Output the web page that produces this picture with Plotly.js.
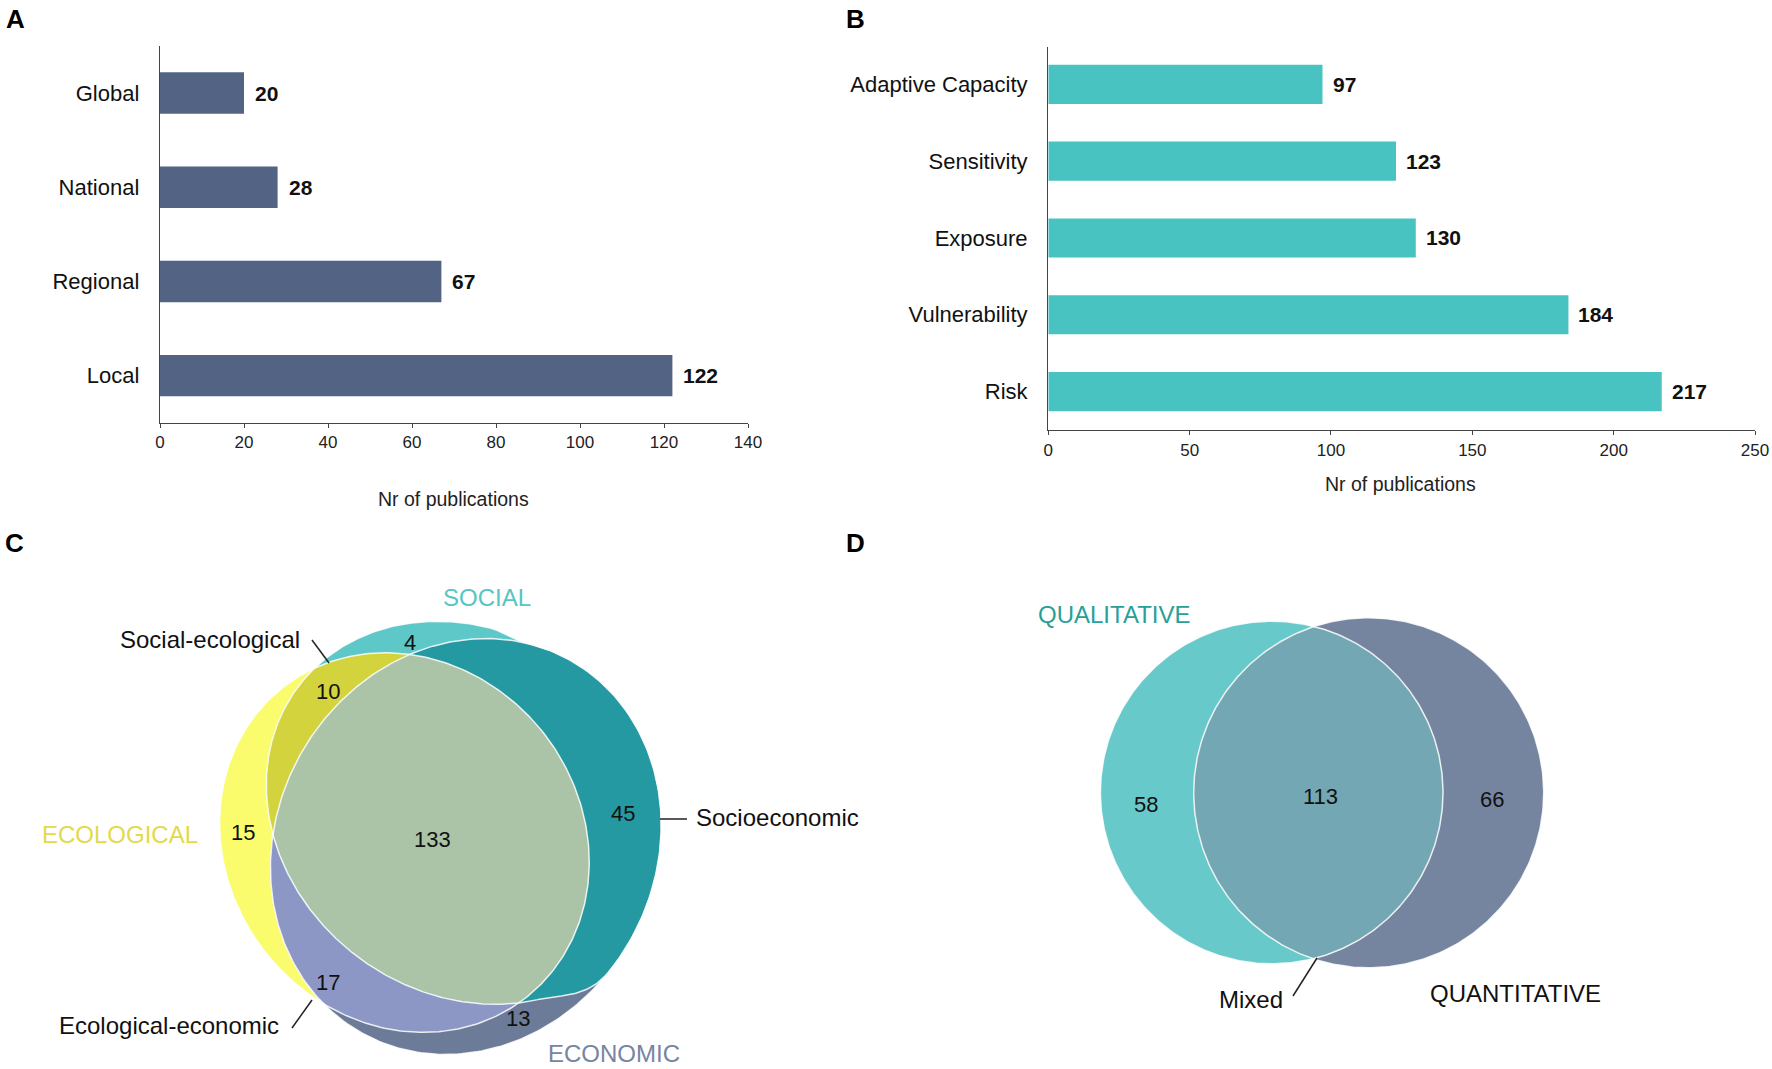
<!DOCTYPE html>
<html><head><meta charset="utf-8">
<script src="https://cdn.plot.ly/plotly-3.0.1.min.js"></script>
<style>html,body{margin:0;padding:0;background:#fff;}#chart{width:1772px;height:1069px;}</style>
</head><body><div id="chart"></div>
<script>
// ---------- DATA ----------
const scaleCategories = ['Local', 'Regional', 'National', 'Global'];
const scaleCounts = [122, 67, 28, 20];
const xTicksA = [0, 20, 40, 60, 80, 100, 120, 140];

const conceptCategories = ['Risk', 'Vulnerability', 'Exposure', 'Sensitivity', 'Adaptive Capacity'];
const conceptCounts = [217, 184, 130, 123, 97];
const xTicksB = [0, 50, 100, 150, 200, 250];

const dimensionRegions = ['Social', 'Social-ecological', 'Ecological', 'All three', 'Socioeconomic', 'Ecological-economic', 'Economic'];
const dimensionCounts = [4, 10, 15, 133, 45, 17, 13];

const methodRegions = ['Qualitative', 'Mixed', 'Quantitative'];
const methodCounts = [58, 113, 66];

// ---------- GEOMETRY of the Venn sets (pixel space: cx, cy, semi-axes, rotation in degrees) ----------
const D2R = Math.PI / 180;
const elE = {cx: 404.4, cy: 842.6, r1: 177.1, r2: 197.0, th: -37.8 * D2R};   // Ecological
const elC = {cx: 465.8, cy: 846.5, r1: 189.3, r2: 213.5, th: 29.3 * D2R};    // Economic
const elS = {cx: 466.1, cy: 812.8, r1: 180.3, r2: 210.0, th: -53.2 * D2R};   // Social
const socialSharedArc = [-69.9, 46.0];   // angular sector where Social follows the Economic outline
const elQ = {cx: 1271.7, cy: 792.5, r1: 171.3, r2: 171.3, th: 0};            // Qualitative
const elN = {cx: 1368.7, cy: 792.8, r1: 175, r2: 175, th: 0};                // Quantitative

function ellipsePoly(el, n){
  const P=[]; n=n||360;
  for(let i=0;i<n;i++){const t=2*Math.PI*i/n;
    const x=el.r1*Math.cos(t), y=el.r2*Math.sin(t);
    P.push([el.cx+x*Math.cos(el.th)-y*Math.sin(el.th), el.cy+x*Math.sin(el.th)+y*Math.cos(el.th)]);}
  return P;
}
function rayEllipse(el, p0, ang){
  const dx=Math.cos(ang), dy=Math.sin(ang);
  const c=Math.cos(-el.th), s=Math.sin(-el.th);
  const px=(p0[0]-el.cx)*c-(p0[1]-el.cy)*s, py=(p0[0]-el.cx)*s+(p0[1]-el.cy)*c;
  const ddx=dx*c-dy*s, ddy=dx*s+dy*c;
  const A=ddx*ddx/(el.r1*el.r1)+ddy*ddy/(el.r2*el.r2);
  const B=2*(px*ddx/(el.r1*el.r1)+py*ddy/(el.r2*el.r2));
  const C=px*px/(el.r1*el.r1)+py*py/(el.r2*el.r2)-1;
  return (-B+Math.sqrt(B*B-4*A*C))/(2*A);
}
function smooth(t){t=Math.max(0,Math.min(1,t));return t*t*(3-2*t);}
function socialPoly(n){
  const p0=[elS.cx, elS.cy], a1=socialSharedArc[0], a2=socialSharedArc[1]; const P=[];
  for(let i=0;i<n;i++){
    const deg=-180+360*i/n, a=deg*D2R;
    const rS=rayEllipse(elS,p0,a), rC=rayEllipse(elC,p0,a)*1.002;
    let w=0; if(deg<a1) w=smooth((a1-deg)/12); else if(deg>a2) w=smooth((deg-a2)/22);
    const r=rC+(rS-rC)*w;
    P.push([p0[0]+r*Math.cos(a), p0[1]+r*Math.sin(a)]);
  }
  return P;
}
function area(P){let s=0;for(let i=0;i<P.length;i++){const a=P[i],b=P[(i+1)%P.length];s+=a[0]*b[1]-b[0]*a[1];}return s/2;}
function clip(subject, cp){
  const sg=Math.sign(area(cp)); let out=subject;
  for(let i=0;i<cp.length;i++){
    const A=cp[i],B=cp[(i+1)%cp.length]; const inp=out; out=[]; if(!inp.length)break;
    const side=p=>sg*((B[0]-A[0])*(p[1]-A[1])-(B[1]-A[1])*(p[0]-A[0]));
    for(let j=0;j<inp.length;j++){const P=inp[j],Q=inp[(j+1)%inp.length];const sp=side(P),sq=side(Q);
      if(sp>=0)out.push(P);
      if((sp>=0)!==(sq>=0)){const t=sp/(sp-sq);out.push([P[0]+t*(Q[0]-P[0]),P[1]+t*(Q[1]-P[1])]);}}
  }
  return out;
}

const PE=ellipsePoly(elE), PC=ellipsePoly(elC), PS=socialPoly(720), PQ=ellipsePoly(elQ), PN=ellipsePoly(elN);

const FONT='Liberation Sans, Arial, Helvetica, sans-serif';
const traces=[];
function poly(P, color, name){
  const xs=P.map(p=>p[0]), ys=P.map(p=>p[1]); xs.push(xs[0]); ys.push(ys[0]);
  traces.push({type:'scatter',mode:'lines',name:name,x:xs,y:ys,fill:'toself',fillcolor:color,line:{width:0,color:color},
    xaxis:'x3',yaxis:'y3',hoverinfo:'skip',showlegend:false});
}
function outline(P, color, w){
  const xs=P.map(p=>p[0]), ys=P.map(p=>p[1]); xs.push(xs[0]); ys.push(ys[0]);
  traces.push({type:'scatter',mode:'lines',x:xs,y:ys,line:{width:w,color:color},
    xaxis:'x3',yaxis:'y3',hoverinfo:'skip',showlegend:false});
}

// bars
traces.push({type:'bar',orientation:'h',x:scaleCounts,y:scaleCategories,marker:{color:'#526384'},width:0.44,
  xaxis:'x',yaxis:'y',hoverinfo:'skip',showlegend:false});
traces.push({type:'bar',orientation:'h',x:conceptCounts,y:conceptCategories,marker:{color:'#48c3c1'},width:0.51,
  xaxis:'x2',yaxis:'y2',hoverinfo:'skip',showlegend:false});

// Venn C (painter order: single sets, then pairwise, then triple)
poly(PE,'#fbfb6e','Ecological');
poly(PC,'#6b7b98','Economic');
poly(PS,'#5ec7c8','Social');
poly(clip(PE,PC),'#8d97c6','Ecological-economic');
poly(clip(PS,PE),'#d3d33d','Social-ecological');
poly(clip(PS,PC),'#2499a1','Socioeconomic');
poly(clip(clip(PS,PE),PC),'#abc3a7','All three');
outline(PE,'rgba(255,255,255,0.85)',1.5);
outline(PC,'rgba(255,255,255,0.85)',1.5);
outline(PS,'rgba(255,255,255,0.85)',1.5);

// Venn D
poly(PQ,'#68c9ca','Qualitative');
poly(PN,'#75849f','Quantitative');
poly(clip(PQ,PN),'#73a7b4','Mixed');
outline(PQ,'rgba(255,255,255,0.85)',1.5);
outline(PN,'rgba(255,255,255,0.85)',1.5);

// ---------- ANNOTATIONS ----------
const ann=[];
function txt(x,y,text,size,color,opts){
  ann.push(Object.assign({x:x,y:y,xref:'x3',yref:'y3',text:text,showarrow:false,
    font:{family:FONT,size:size,color:color||'#111'},xanchor:'center',yanchor:'middle'},opts||{}));
}
scaleCounts.forEach((v,i)=>ann.push({xref:'x',yref:'y',x:v,y:scaleCategories[i],text:'<b>'+v+'</b>',showarrow:false,
  xanchor:'left',xshift:9,font:{family:FONT,size:21,color:'#111'}}));
conceptCounts.forEach((v,i)=>ann.push({xref:'x2',yref:'y2',x:v,y:conceptCategories[i],text:'<b>'+v+'</b>',showarrow:false,
  xanchor:'left',xshift:8,font:{family:FONT,size:21,color:'#111'}}));
ann.push({xref:'paper',yref:'paper',x:453/1772,y:1-499/1069,text:'Nr of publications',showarrow:false,font:{family:FONT,size:19.5,color:'#222'},xanchor:'center',yanchor:'middle'});
ann.push({xref:'paper',yref:'paper',x:1400.5/1772,y:1-484/1069,text:'Nr of publications',showarrow:false,font:{family:FONT,size:19.5,color:'#222'},xanchor:'center',yanchor:'middle'});
[['A',15.5,19],['B',855,19],['C',14.5,543],['D',855,543]].forEach(l=>ann.push({xref:'paper',yref:'paper',x:l[1]/1772,y:1-l[2]/1069,
  text:'<b>'+l[0]+'</b>',showarrow:false,font:{family:FONT,size:26,color:'#000'},xanchor:'center',yanchor:'middle'}));

const posC=[[410,642],[328,691],[243,832],[432,839],[623,813],[328,982],[518,1018]];
dimensionCounts.forEach((v,i)=>txt(posC[i][0],posC[i][1],String(v),22,'#111'));
const posD=[[1146,804],[1320,796],[1492,799]];
methodCounts.forEach((v,i)=>txt(posD[i][0],posD[i][1],String(v),22,'#111'));
txt(486.5,597,'SOCIAL',24,'#55c6c4');
txt(120,834,'ECOLOGICAL',24,'#e3d94b');
txt(614,1053,'ECONOMIC',24,'#7784a2');
txt(210,639,'Social-ecological',24,'#111');
txt(694,817,'Socioeconomic',24,'#111',{xanchor:'left'});
txt(169,1025,'Ecological-economic',24,'#111');
txt(1114,614,'QUALITATIVE',24,'#28a098');
txt(1515,993,'QUANTITATIVE',24,'#111');
txt(1251,999,'Mixed',24,'#111');

const line=(x0,y0,x1,y1)=>({type:'line',xref:'x3',yref:'y3',x0:x0,y0:y0,x1:x1,y1:y1,line:{color:'#222',width:1.5}});
const shapes=[line(312,640,329,663),line(660,819,687,819),line(292,1028,312,1000),line(1293,996,1317,958)];

const axBase={showgrid:false,zeroline:false,fixedrange:true,showline:true,linecolor:'#444',linewidth:1.3};
const layout={
  width:1772,height:1069,margin:{l:0,r:0,t:0,b:0},paper_bgcolor:'#fff',plot_bgcolor:'rgba(0,0,0,0)',
  showlegend:false,font:{family:FONT,color:'#222'},
  xaxis:Object.assign({},axBase,{domain:[160/1772,748/1772],range:[0,140],tickvals:xTicksA,ticks:'outside',ticklen:4,tickcolor:'#444',
    tickfont:{family:FONT,size:17,color:'#222'},anchor:'y'}),
  yaxis:Object.assign({},axBase,{domain:[1-422.7/1069,1-46/1069],type:'category',categoryorder:'array',categoryarray:scaleCategories,
    range:[-0.5,3.5],ticks:'outside',ticklen:15,tickcolor:'rgba(0,0,0,0)',tickfont:{family:FONT,size:22,color:'#111'},anchor:'x'}),
  xaxis2:Object.assign({},axBase,{domain:[1048.3/1772,1755/1772],range:[0,250],tickvals:xTicksB,ticks:'outside',ticklen:4,tickcolor:'#444',
    tickfont:{family:FONT,size:17,color:'#222'},anchor:'y2'}),
  yaxis2:Object.assign({},axBase,{domain:[1-430/1069,1-46.7/1069],type:'category',categoryorder:'array',categoryarray:conceptCategories,
    range:[-0.5,4.49],ticks:'outside',ticklen:15,tickcolor:'rgba(0,0,0,0)',tickfont:{family:FONT,size:22,color:'#111'},anchor:'x2'}),
  xaxis3:{domain:[0,1],range:[0,1772],visible:false,fixedrange:true,anchor:'y3'},
  yaxis3:{domain:[0,0.49],range:[1069,1069*0.51],visible:false,fixedrange:true,anchor:'x3'},
  annotations:ann,shapes:shapes
};
Plotly.newPlot('chart',traces,layout,{staticPlot:true,displayModeBar:false});
</script></body></html>
